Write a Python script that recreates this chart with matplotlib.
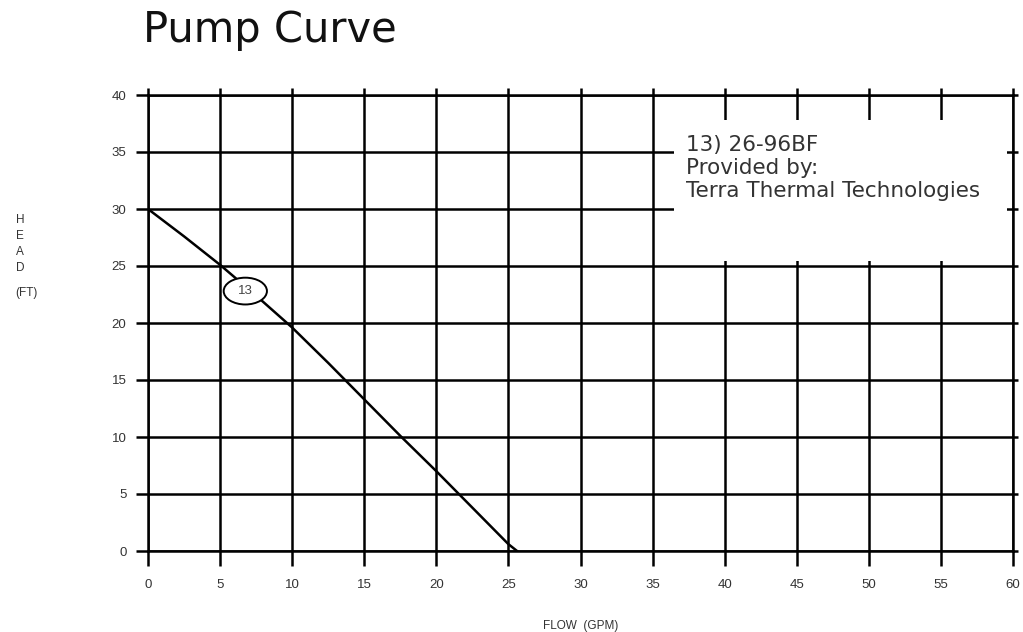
import matplotlib
matplotlib.use("Agg")
import matplotlib.pyplot as plt
from matplotlib.patches import Ellipse, Rectangle

# donnees
flow_gpm = [0, 2.5, 5, 7.5, 10, 12.5, 15, 17.5, 20, 22.5, 25, 25.6]
head_ft = [30, 27.6, 25.1, 22.4, 19.6, 16.5, 13.3, 10.1, 7.0, 3.8, 0.6, 0]

x_ticks = list(range(0, 61, 5))
y_ticks = list(range(0, 41, 5))

curve_id = "13"
info_lines = ["13) 26-96BF", "Provided by:", "Terra Thermal Technologies"]

lw = 1.8
tick_font = {"family": "Liberation Sans", "size": 9.5, "color": "#333333"}

fig = plt.figure(figsize=(10.23, 6.32), dpi=100)
ax = fig.add_axes([148 / 1023, 1 - 551 / 632, 865 / 1023, 456 / 632])

ax.set_xlim(0, 60)
ax.set_ylim(0, 40)
ax.set_xticks(x_ticks)
ax.set_yticks(y_ticks)
ax.set_xticklabels([str(v) for v in x_ticks], fontdict=tick_font)
ax.set_yticklabels([str(v) for v in y_ticks], fontdict=tick_font)
ax.tick_params(axis="x", direction="out", length=10.5, width=lw, pad=10)
ax.tick_params(axis="y", direction="out", length=8.5, width=lw, pad=7)
for s in ax.spines.values():
    s.set_linewidth(lw)
ax.set_axisbelow(True)
ax.grid(True, color="black", linewidth=lw)

# petits depassements en haut et a droite
top = ax.secondary_xaxis("top")
top.set_xticks(x_ticks, labels=[])
top.tick_params(direction="out", length=5, width=lw)
top.spines["top"].set_visible(False)
right = ax.secondary_yaxis("right")
right.set_yticks(y_ticks, labels=[])
right.tick_params(direction="out", length=3.5, width=lw)
right.spines["right"].set_visible(False)

# courbe de la pompe
ax.plot(flow_gpm, head_ft, color="black", linewidth=1.8, zorder=3)
ax.add_patch(Ellipse((6.75, 22.8), 3.0, 2.35, facecolor="white",
                     edgecolor="black", linewidth=1.4, zorder=4))
ax.text(6.75, 22.8, curve_id, ha="center", va="center", fontsize=9.5,
        family="Liberation Sans", color="#444444", zorder=5)

# cartouche
ax.add_patch(Rectangle((36.5, 25.4), 23.1, 12.4, facecolor="white",
                       edgecolor="none", zorder=2))
ax.text(37.3, 36.5, "\n".join(info_lines), ha="left", va="top",
        fontsize=15.5, color="#333333", linespacing=1.2, zorder=3)

# titres
fig.text(143 / 1023, 1 - 30 / 632, "Pump Curve", ha="left", va="center",
         fontsize=30, color="#111111")
ax.set_xlabel("FLOW  (GPM)", family="Liberation Sans", fontsize=8.5,
              color="#333333")
ax.xaxis.set_label_coords(0.5, -0.152)
ax.set_ylabel("H\nE\nA\nD", rotation=0, family="Liberation Sans", fontsize=8.5,
              color="#333333", linespacing=1.45, va="center", ha="center")
ax.yaxis.set_label_coords(-0.148, 0.674)
ax.text(-0.14, 0.566, "(FT)", transform=ax.transAxes, ha="center", va="center",
        family="Liberation Sans", fontsize=8.5, color="#333333")

fig.savefig("out.png", dpi=100, facecolor="white")
